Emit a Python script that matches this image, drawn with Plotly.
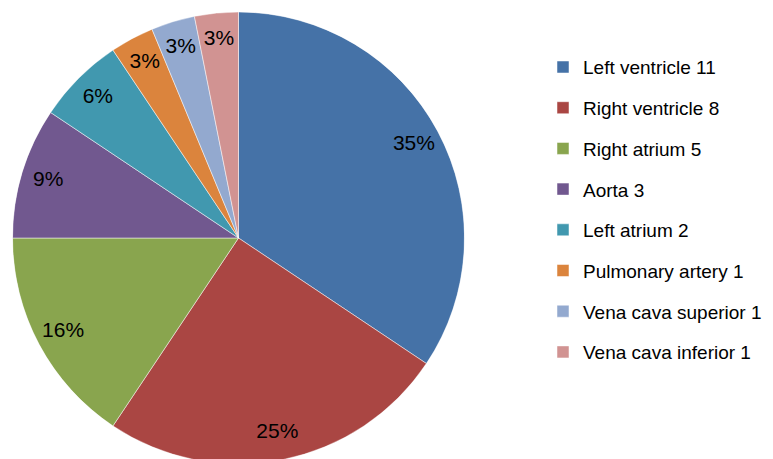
import plotly.graph_objects as go

categories = ["Left ventricle", "Right ventricle", "Right atrium", "Aorta",
              "Left atrium", "Pulmonary artery", "Vena cava superior", "Vena cava inferior"]
counts = [11, 8, 5, 3, 2, 1, 1, 1]
pct_labels = ["35%", "25%", "16%", "9%", "6%", "3%", "3%", "3%"]
colors = ["#4572A7", "#AA4643", "#89A54E", "#71588F",
          "#4198AF", "#DB843D", "#93A9CF", "#D19392"]

legend_labels = [f"{c} {n}" for c, n in zip(categories, counts)]
total = sum(counts)
mid_theta, widths = [], []
cum = 0
for n in counts:
    mid_theta.append((cum + n / 2) / total * 360)
    widths.append(n / total * 360)
    cum += n

FONT = "Liberation Sans, Arial, Helvetica, sans-serif"
W, H = 773, 459
dom_x = [0, 461 / W]

fig = go.Figure()
for lab, th, wd, col in zip(legend_labels, mid_theta, widths, colors):
    fig.add_trace(go.Barpolar(
        r=[1], theta=[th], width=[wd], name=lab, legendgroup=lab,
        marker=dict(color=col, line=dict(color="rgba(255,255,255,0.7)", width=0.7)),
        hoverinfo="name",
    ))
fig.add_trace(go.Scatterpolar(
    r=[0.88] * len(counts), theta=mid_theta, mode="text", text=pct_labels,
    textfont=dict(size=21, color="black", family=FONT),
    textposition="middle center",
    showlegend=False, hoverinfo="skip",
))
fig.update_layout(
    width=W, height=H,
    margin=dict(l=0, r=0, t=4, b=3),
    paper_bgcolor="white", plot_bgcolor="white",
    font=dict(family=FONT, color="black"),
    polar=dict(
        domain=dict(x=dom_x, y=[0, 1]),
        bgcolor="rgba(0,0,0,0)",
        bargap=0,
        radialaxis=dict(range=[0, 1], visible=False, showgrid=False),
        angularaxis=dict(visible=False, rotation=90, direction="clockwise",
                         showgrid=False, showline=False),
    ),
    legend=dict(
        x=535 / W, xanchor="left", y=0.92, yanchor="top",
        font=dict(size=19, color="black", family=FONT),
        traceorder="grouped", tracegroupgap=13,
        bgcolor="rgba(0,0,0,0)",
    ),
    showlegend=True,
)
fig.write_html("out.html")
